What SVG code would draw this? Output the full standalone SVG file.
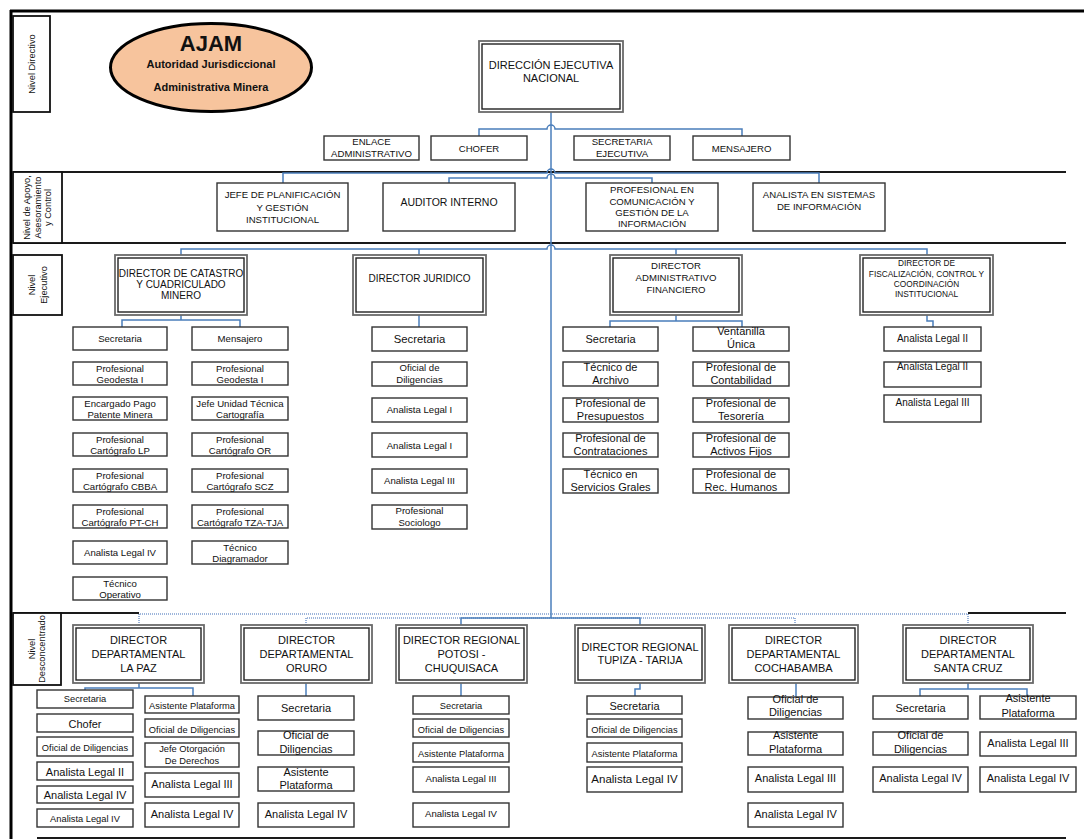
<svg xmlns="http://www.w3.org/2000/svg" width="1084" height="839" viewBox="0 0 1084 839">
<style>
  text { font-family: "Liberation Sans", Arial, sans-serif; fill: #111; text-anchor: middle; }
  .b { fill: #fff; stroke: #333; stroke-width: 1.4; }
  .dbo { fill: #fff; stroke: #6a6a6a; stroke-width: 1.8; }
  .dbi { fill: none; stroke: #222; stroke-width: 1.4; }
  .lvl { fill: #fff; stroke: #111; stroke-width: 1.8; }
  .sec { fill: none; stroke: #1a1a1a; stroke-width: 2; }
  .frame { fill: none; stroke: #000; stroke-width: 3; }
  .c { fill: none; stroke: #4a7ebb; stroke-width: 1.5; }
  .cd { fill: none; stroke: #7f9fd0; stroke-width: 1.6; stroke-dasharray: 1 1; }
  .f8 { font-size: 8.3px; }
  .f9 { font-size: 9.3px; }
  .f95 { font-size: 9.6px; }
  .f10 { font-size: 10px; }
  .f105 { font-size: 10.5px; }
  .f11 { font-size: 11px; }
</style>

<!-- page frame and level separators -->
<g id="frame">
  <line class="frame" x1="10" y1="11" x2="1084" y2="11"/>
  <line class="frame" x1="11" y1="10" x2="11" y2="839"/>
  <line class="sec" x1="13" y1="172" x2="1066" y2="172"/>
  <line class="sec" x1="13" y1="243" x2="1066" y2="243"/>
  <line class="sec" x1="13" y1="613" x2="139" y2="613"/>
  <line class="sec" x1="968" y1="613" x2="1066" y2="613"/>
  <line class="sec" x1="37" y1="838" x2="1066" y2="838"/>
</g>

<!-- level labels -->
<g id="lvl-directivo">
  <rect class="lvl" x="13" y="16" width="37" height="96"/>
  <text class="f9" transform="translate(35,64) rotate(-90)">Nivel Directivo</text>
</g>
<g id="lvl-apoyo">
  <rect class="lvl" x="13" y="172" width="49" height="71"/>
  <text class="f9" transform="translate(30,207.5) rotate(-90)">Nivel de Apoyo,</text>
  <text class="f9" transform="translate(41,207.5) rotate(-90)">Asesoramiento</text>
  <text class="f9" transform="translate(51,207.5) rotate(-90)">y Control</text>
</g>
<g id="lvl-ejecutivo">
  <rect class="lvl" x="13" y="255" width="49" height="60"/>
  <text class="f9" transform="translate(35,285) rotate(-90)">Nivel</text>
  <text class="f9" transform="translate(47,285) rotate(-90)">Ejecutivo</text>
</g>
<g id="lvl-desconcentrado">
  <rect class="lvl" x="13" y="613" width="48" height="72"/>
  <text class="f9" transform="translate(35,649) rotate(-90)">Nivel</text>
  <text class="f9" transform="translate(45,649) rotate(-90)">Desconcentrado</text>
</g>

<!-- connectors -->
<g id="connectors">
  <path class="cd" d="M139 625 V614 H968 V625"/>
  <path class="cd" d="M306 625 V618 H795 V625"/>
  <path class="c" d="M551 112 V618"/>
  <path class="c" d="M479 136 V129 H547 a4 4 0 0 1 8 0 H742 V136"/>
  <path class="c" d="M283 183 V173 H547 a4 4 0 0 1 8 0 H819 V183"/>
  <path class="c" d="M449 183 V178 H547 a4 4 0 0 1 8 0 H652 V183"/>
  <path class="c" d="M181 255 V249 H547 a4 4 0 0 1 8 0 H927 V255 M419 249 V255 M676 249 V255"/>
  <path class="c" d="M461 625 V618 H640 V625"/>
  <path class="c" d="M181 315 V320 M122 327 V320 H240 V327"/>
  <path class="c" d="M419 315 V327"/>
  <path class="c" d="M676 315 V321 M610 327 V321 H742 V327"/>
  <path class="c" d="M927 315 V321 H933 V327"/>
  <path class="c" d="M139 683 V688 M85 690 V688 H193 V696"/>
  <path class="c" d="M306 683 V696"/>
  <path class="c" d="M461 683 V696"/>
  <path class="c" d="M640 683 V689 H635 V696"/>
  <path class="c" d="M796 683 V697"/>
  <path class="c" d="M968 683 V689 M920 696 V689 H1027 V696"/>
</g>

<!-- emblem -->
<g id="ajam">
  <ellipse cx="211" cy="67.5" rx="100.5" ry="44" fill="#f7c49d" stroke="#000" stroke-width="3"/>
  <text x="211" y="51" font-size="22" font-weight="bold">AJAM</text>
  <text x="211" y="68" class="f11" font-weight="bold">Autoridad Jurisdiccional</text>
  <text x="211" y="91" class="f11" font-weight="bold">Administrativa Minera</text>
</g>

<!-- executive direction -->
<g id="direccion-ejecutiva">
  <rect class="dbo" x="479" y="41" width="144" height="71"/>
  <rect class="dbi" x="482" y="44" width="138" height="65"/>
  <text x="551" y="69" class="f11">DIRECCIÓN EJECUTIVA</text>
  <text x="551" y="82" class="f11">NACIONAL</text>
</g>

<g id="enlace">
  <rect class="b" x="324" y="136" width="95" height="24"/>
  <text x="371.5" y="145" class="f95">ENLACE</text>
  <text x="371.5" y="157" class="f95">ADMINISTRATIVO</text>
</g>
<g id="chofer">
  <rect class="b" x="431" y="136" width="96" height="24"/>
  <text x="479" y="152" class="f95">CHOFER</text>
</g>
<g id="secretaria-ejecutiva">
  <rect class="b" x="574" y="136" width="96" height="24"/>
  <text x="622" y="145" class="f95">SECRETARIA</text>
  <text x="622" y="157" class="f95">EJECUTIVA</text>
</g>
<g id="mensajero">
  <rect class="b" x="693" y="136" width="97" height="24"/>
  <text x="741.5" y="152" class="f95">MENSAJERO</text>
</g>

<!-- support level -->
<g id="jefe-planificacion">
  <rect class="b" x="217" y="183" width="131" height="48"/>
  <text x="282.5" y="198" class="f95">JEFE DE PLANIFICACIÓN</text>
  <text x="282.5" y="211" class="f95">Y GESTIÓN</text>
  <text x="282.5" y="223" class="f95">INSTITUCIONAL</text>
</g>
<g id="auditor">
  <rect class="b" x="383" y="183" width="132" height="48"/>
  <text x="449" y="206" class="f105">AUDITOR INTERNO</text>
</g>
<g id="profesional-comunicacion">
  <rect class="b" x="586" y="183" width="132" height="48"/>
  <text x="652" y="193" class="f95">PROFESIONAL EN</text>
  <text x="652" y="205" class="f95">COMUNICACIÓN Y</text>
  <text x="652" y="216" class="f95">GESTIÓN DE LA</text>
  <text x="652" y="227" class="f95">INFORMACIÓN</text>
</g>
<g id="analista-sistemas">
  <rect class="b" x="753" y="183" width="132" height="48"/>
  <text x="819" y="198" class="f95">ANALISTA EN SISTEMAS</text>
  <text x="819" y="210" class="f95">DE INFORMACIÓN</text>
</g>

<!-- executive level: directors -->
<g id="dir-catastro">
  <rect class="dbo" x="115" y="255" width="132" height="60"/>
  <rect class="dbi" x="118" y="258" width="126" height="54"/>
  <text x="181" y="277" class="f10">DIRECTOR DE CATASTRO</text>
  <text x="181" y="288" class="f10">Y CUADRICULADO</text>
  <text x="181" y="299" class="f10">MINERO</text>
</g>
<g id="dir-juridico">
  <rect class="dbo" x="353" y="255" width="133" height="60"/>
  <rect class="dbi" x="356" y="258" width="127" height="54"/>
  <text x="419.5" y="282" class="f10">DIRECTOR JURIDICO</text>
</g>
<g id="dir-administrativo">
  <rect class="dbo" x="610" y="255" width="132" height="60"/>
  <rect class="dbi" x="613" y="258" width="126" height="54"/>
  <text x="676" y="269" class="f95">DIRECTOR</text>
  <text x="676" y="281" class="f95">ADMINISTRATIVO</text>
  <text x="676" y="293" class="f95">FINANCIERO</text>
</g>
<g id="dir-fiscalizacion">
  <rect class="dbo" x="860" y="255" width="133" height="60"/>
  <rect class="dbi" x="863" y="258" width="127" height="54"/>
  <text x="926.5" y="266" class="f8">DIRECTOR DE</text>
  <text x="926.5" y="277" class="f8">FISCALIZACIÓN, CONTROL Y</text>
  <text x="926.5" y="287" class="f8">COORDINACIÓN</text>
  <text x="926.5" y="297" class="f8">INSTITUCIONAL</text>
</g>

<!-- catastro staff -->
<g id="cat-l1"><rect class="b" x="73" y="327" width="94" height="23"/><text x="120" y="342" class="f95">Secretaria</text></g>
<g id="cat-l2"><rect class="b" x="73" y="362" width="94" height="23"/><text x="120" y="371.5" class="f95">Profesional</text><text x="120" y="383" class="f95">Geodesta I</text></g>
<g id="cat-l3"><rect class="b" x="73" y="397" width="94" height="23"/><text x="120" y="406.5" class="f95">Encargado Pago</text><text x="120" y="418" class="f95">Patente Minera</text></g>
<g id="cat-l4"><rect class="b" x="73" y="433" width="94" height="23"/><text x="120" y="442.5" class="f95">Profesional</text><text x="120" y="454" class="f95">Cartógrafo LP</text></g>
<g id="cat-l5"><rect class="b" x="73" y="469" width="94" height="23"/><text x="120" y="478.5" class="f95">Profesional</text><text x="120" y="490" class="f95">Cartógrafo CBBA</text></g>
<g id="cat-l6"><rect class="b" x="73" y="505" width="94" height="23"/><text x="120" y="514.5" class="f95">Profesional</text><text x="120" y="526" class="f95">Cartógrafo PT-CH</text></g>
<g id="cat-l7"><rect class="b" x="73" y="541" width="94" height="23"/><text x="120" y="556" class="f95">Analista Legal IV</text></g>
<g id="cat-l8"><rect class="b" x="73" y="577" width="94" height="23"/><text x="120" y="586.5" class="f95">Técnico</text><text x="120" y="598" class="f95">Operativo</text></g>

<g id="cat-r1"><rect class="b" x="192" y="327" width="96" height="23"/><text x="240" y="342" class="f95">Mensajero</text></g>
<g id="cat-r2"><rect class="b" x="192" y="362" width="96" height="23"/><text x="240" y="371.5" class="f95">Profesional</text><text x="240" y="383" class="f95">Geodesta I</text></g>
<g id="cat-r3"><rect class="b" x="192" y="397" width="96" height="23"/><text x="240" y="406.5" class="f95">Jefe Unidad Técnica</text><text x="240" y="418" class="f95">Cartografía</text></g>
<g id="cat-r4"><rect class="b" x="192" y="433" width="96" height="23"/><text x="240" y="442.5" class="f95">Profesional</text><text x="240" y="454" class="f95">Cartógrafo OR</text></g>
<g id="cat-r5"><rect class="b" x="192" y="469" width="96" height="23"/><text x="240" y="478.5" class="f95">Profesional</text><text x="240" y="490" class="f95">Cartógrafo SCZ</text></g>
<g id="cat-r6"><rect class="b" x="192" y="505" width="96" height="23"/><text x="240" y="514.5" class="f95">Profesional</text><text x="240" y="526" class="f95">Cartógrafo TZA-TJA</text></g>
<g id="cat-r7"><rect class="b" x="192" y="541" width="96" height="23"/><text x="240" y="550.5" class="f95">Técnico</text><text x="240" y="562" class="f95">Diagramador</text></g>

<!-- juridico staff -->
<g id="jur-1"><rect class="b" x="372" y="327" width="95" height="24"/><text x="419.5" y="343" font-size="11.3">Secretaria</text></g>
<g id="jur-2"><rect class="b" x="372" y="362" width="95" height="24"/><text x="419.5" y="371" class="f95">Oficial de</text><text x="419.5" y="382.5" class="f95">Diligencias</text></g>
<g id="jur-3"><rect class="b" x="372" y="398" width="95" height="24"/><text x="419.5" y="413" class="f95">Analista Legal I</text></g>
<g id="jur-4"><rect class="b" x="372" y="433" width="95" height="24"/><text x="419.5" y="449" class="f95">Analista Legal I</text></g>
<g id="jur-5"><rect class="b" x="372" y="469" width="95" height="24"/><text x="419.5" y="484" class="f95">Analista Legal III</text></g>
<g id="jur-6"><rect class="b" x="372" y="505" width="95" height="24"/><text x="419.5" y="514" class="f95">Profesional</text><text x="419.5" y="526" class="f95">Sociologo</text></g>

<!-- administrative staff -->
<g id="adm-l1"><rect class="b" x="563" y="327" width="95" height="24"/><text x="610.5" y="343" class="f11">Secretaria</text></g>
<g id="adm-l2"><rect class="b" x="563" y="362" width="95" height="24"/><text x="610.5" y="371" class="f11">Técnico de</text><text x="610.5" y="383.5" class="f11">Archivo</text></g>
<g id="adm-l3"><rect class="b" x="563" y="398" width="95" height="24"/><text x="610.5" y="407" class="f11">Profesional de</text><text x="610.5" y="419.5" class="f11">Presupuestos</text></g>
<g id="adm-l4"><rect class="b" x="563" y="433" width="95" height="24"/><text x="610.5" y="442" class="f11">Profesional de</text><text x="610.5" y="454.5" class="f11">Contrataciones</text></g>
<g id="adm-l5"><rect class="b" x="563" y="469" width="95" height="24"/><text x="610.5" y="478" class="f11">Técnico en</text><text x="610.5" y="490.5" class="f11">Servicios Grales</text></g>

<g id="adm-r1"><rect class="b" x="693" y="327" width="96" height="24"/><text x="741" y="335" class="f11">Ventanilla</text><text x="741" y="348" class="f11">Única</text></g>
<g id="adm-r2"><rect class="b" x="693" y="362" width="96" height="24"/><text x="741" y="371" class="f11">Profesional de</text><text x="741" y="383.5" class="f11">Contabilidad</text></g>
<g id="adm-r3"><rect class="b" x="693" y="398" width="96" height="24"/><text x="741" y="407" class="f11">Profesional de</text><text x="741" y="419.5" class="f11">Tesorería</text></g>
<g id="adm-r4"><rect class="b" x="693" y="433" width="96" height="24"/><text x="741" y="442" class="f11">Profesional de</text><text x="741" y="454.5" class="f11">Activos Fijos</text></g>
<g id="adm-r5"><rect class="b" x="693" y="469" width="96" height="24"/><text x="741" y="478" class="f11">Profesional de</text><text x="741" y="490.5" class="f11">Rec. Humanos</text></g>

<!-- fiscalizacion staff -->
<g id="fis-1"><rect class="b" x="884" y="327" width="97" height="24"/><text x="932.5" y="342" class="f10">Analista Legal II</text></g>
<g id="fis-2"><rect class="b" x="884" y="362" width="97" height="25"/><text x="932.5" y="370" class="f10">Analista Legal II</text></g>
<g id="fis-3"><rect class="b" x="884" y="395" width="97" height="27"/><text x="932.5" y="406" class="f10">Analista Legal III</text></g>

<!-- deconcentrated level: directors -->
<g id="dir-lapaz">
  <rect class="dbo" x="73" y="625" width="131" height="58"/>
  <rect class="dbi" x="76" y="628" width="125" height="52"/>
  <text x="138.5" y="644" class="f11">DIRECTOR</text>
  <text x="138.5" y="658" class="f11">DEPARTAMENTAL</text>
  <text x="138.5" y="672" class="f11">LA PAZ</text>
</g>
<g id="dir-oruro">
  <rect class="dbo" x="241" y="625" width="131" height="58"/>
  <rect class="dbi" x="244" y="628" width="125" height="52"/>
  <text x="306.5" y="644" class="f11">DIRECTOR</text>
  <text x="306.5" y="658" class="f11">DEPARTAMENTAL</text>
  <text x="306.5" y="672" class="f11">ORURO</text>
</g>
<g id="dir-potosi">
  <rect class="dbo" x="396" y="625" width="131" height="58"/>
  <rect class="dbi" x="399" y="628" width="125" height="52"/>
  <text x="461.5" y="644" class="f11">DIRECTOR REGIONAL</text>
  <text x="461.5" y="658" class="f11">POTOSI -</text>
  <text x="461.5" y="672" class="f11">CHUQUISACA</text>
</g>
<g id="dir-tupiza">
  <rect class="dbo" x="575" y="625" width="130" height="58"/>
  <rect class="dbi" x="578" y="628" width="124" height="52"/>
  <text x="640" y="651" class="f11">DIRECTOR REGIONAL</text>
  <text x="640" y="664" class="f11">TUPIZA - TARIJA</text>
</g>
<g id="dir-cochabamba">
  <rect class="dbo" x="729" y="625" width="129" height="58"/>
  <rect class="dbi" x="732" y="628" width="123" height="52"/>
  <text x="793.5" y="644" class="f11">DIRECTOR</text>
  <text x="793.5" y="658" class="f11">DEPARTAMENTAL</text>
  <text x="793.5" y="672" class="f11">COCHABAMBA</text>
</g>
<g id="dir-santacruz">
  <rect class="dbo" x="903" y="625" width="130" height="58"/>
  <rect class="dbi" x="906" y="628" width="124" height="52"/>
  <text x="968" y="644" class="f11">DIRECTOR</text>
  <text x="968" y="658" class="f11">DEPARTAMENTAL</text>
  <text x="968" y="672" class="f11">SANTA CRUZ</text>
</g>

<!-- la paz staff -->
<g id="lp-l1"><rect class="b" x="37" y="690" width="96" height="18"/><text x="85" y="702" class="f9">Secretaria</text></g>
<g id="lp-l2"><rect class="b" x="37" y="714" width="96" height="18"/><text x="85" y="728" class="f11">Chofer</text></g>
<g id="lp-l3"><rect class="b" x="37" y="737" width="96" height="19"/><text x="85" y="751" class="f9">Oficial de Diligencias</text></g>
<g id="lp-l4"><rect class="b" x="37" y="762" width="96" height="18"/><text x="85" y="776" class="f11">Analista Legal II</text></g>
<g id="lp-l5"><rect class="b" x="37" y="786" width="96" height="17"/><text x="85" y="799" class="f11">Analista Legal IV</text></g>
<g id="lp-l6"><rect class="b" x="37" y="809" width="96" height="18"/><text x="85" y="822" class="f9">Analista Legal IV</text></g>

<g id="lp-r1"><rect class="b" x="145" y="696" width="94" height="17"/><text x="192" y="709" class="f9">Asistente Plataforma</text></g>
<g id="lp-r2"><rect class="b" x="145" y="719" width="94" height="18"/><text x="192" y="733" class="f9">Oficial de Diligencias</text></g>
<g id="lp-r3"><rect class="b" x="145" y="743" width="94" height="24"/><text x="192" y="752" class="f9">Jefe Otorgación</text><text x="192" y="763.5" class="f9">De Derechos</text></g>
<g id="lp-r4"><rect class="b" x="145" y="773" width="94" height="24"/><text x="192" y="788" class="f11">Analista Legal III</text></g>
<g id="lp-r5"><rect class="b" x="145" y="803" width="94" height="24"/><text x="192" y="818" class="f11">Analista Legal IV</text></g>

<!-- oruro staff -->
<g id="or-1"><rect class="b" x="258" y="696" width="96" height="24"/><text x="306" y="712" class="f11">Secretaria</text></g>
<g id="or-2"><rect class="b" x="258" y="731" width="96" height="24"/><text x="306" y="739" class="f11">Oficial de</text><text x="306" y="753" class="f11">Diligencias</text></g>
<g id="or-3"><rect class="b" x="258" y="767" width="96" height="24"/><text x="306" y="776" class="f11">Asistente</text><text x="306" y="788.5" class="f11">Plataforma</text></g>
<g id="or-4"><rect class="b" x="258" y="803" width="96" height="24"/><text x="306" y="818" class="f11">Analista Legal IV</text></g>

<!-- potosi staff -->
<g id="pt-1"><rect class="b" x="413" y="696" width="96" height="18"/><text x="461" y="709" class="f9">Secretaria</text></g>
<g id="pt-2"><rect class="b" x="413" y="719" width="96" height="18"/><text x="461" y="733" class="f9">Oficial de Diligencias</text></g>
<g id="pt-3"><rect class="b" x="413" y="743" width="96" height="19"/><text x="461" y="757" class="f9">Asistente Plataforma</text></g>
<g id="pt-4"><rect class="b" x="413" y="767" width="96" height="25"/><text x="461" y="782" class="f95">Analista Legal III</text></g>
<g id="pt-5"><rect class="b" x="413" y="803" width="96" height="24"/><text x="461" y="817" class="f95">Analista Legal IV</text></g>

<!-- tupiza staff -->
<g id="tj-1"><rect class="b" x="587" y="696" width="95" height="18"/><text x="634.5" y="710" class="f11">Secretaria</text></g>
<g id="tj-2"><rect class="b" x="587" y="719" width="95" height="18"/><text x="634.5" y="733" class="f9">Oficial de Diligencias</text></g>
<g id="tj-3"><rect class="b" x="587" y="743" width="95" height="19"/><text x="634.5" y="757" class="f9">Asistente Plataforma</text></g>
<g id="tj-4"><rect class="b" x="587" y="767" width="95" height="25"/><text x="634.5" y="783" font-size="11.5">Analista Legal IV</text></g>

<!-- cochabamba staff -->
<g id="cb-1"><rect class="b" x="748" y="697" width="95" height="22"/><text x="795.5" y="703" class="f11">Oficial de</text><text x="795.5" y="716" class="f11">Diligencias</text></g>
<g id="cb-2"><rect class="b" x="748" y="732" width="95" height="23"/><text x="795.5" y="739" class="f11">Asistente</text><text x="795.5" y="753" class="f11">Plataforma</text></g>
<g id="cb-3"><rect class="b" x="748" y="767" width="95" height="25"/><text x="795.5" y="782" class="f11">Analista Legal III</text></g>
<g id="cb-4"><rect class="b" x="748" y="803" width="95" height="24"/><text x="795.5" y="818" class="f11">Analista Legal IV</text></g>

<!-- santa cruz staff -->
<g id="sc-l1"><rect class="b" x="873" y="696" width="95" height="23"/><text x="920.5" y="712" class="f11">Secretaria</text></g>
<g id="sc-l2"><rect class="b" x="873" y="732" width="95" height="23"/><text x="920.5" y="739" class="f11">Oficial de</text><text x="920.5" y="753" class="f11">Diligencias</text></g>
<g id="sc-l3"><rect class="b" x="873" y="767" width="95" height="25"/><text x="920.5" y="782" class="f11">Analista Legal IV</text></g>
<g id="sc-r1"><rect class="b" x="980" y="696" width="96" height="23"/><text x="1028" y="702" class="f11">Asistente</text><text x="1028" y="717" class="f11">Plataforma</text></g>
<g id="sc-r2"><rect class="b" x="980" y="732" width="96" height="24"/><text x="1028" y="747" class="f11">Analista Legal III</text></g>
<g id="sc-r3"><rect class="b" x="980" y="767" width="96" height="25"/><text x="1028" y="782" class="f11">Analista Legal IV</text></g>
</svg>
